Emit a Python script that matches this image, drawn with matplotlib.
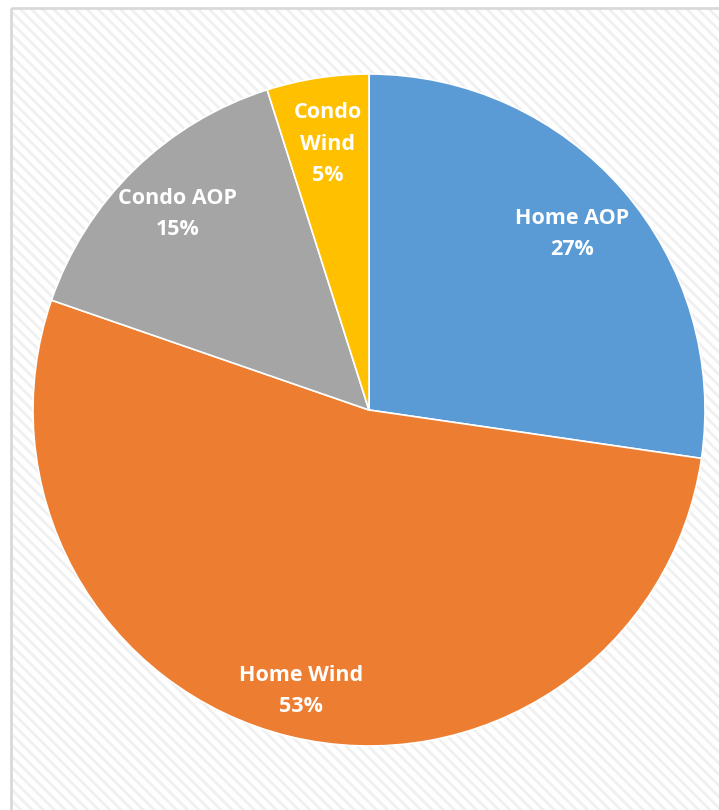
import matplotlib
matplotlib.use("Agg")
import matplotlib.pyplot as plt
from matplotlib.patches import Rectangle
import numpy as np

# data
names = ["Home AOP", "Home Wind", "Condo AOP", "Condo Wind"]
values = [27.3, 53.0, 14.8, 4.9]
label_text = ["Home AOP\n27%", "Home Wind\n53%", "Condo AOP\n15%", "Condo\nWind\n5%"]
colors = ["#5B9BD5", "#ED7D31", "#A5A5A5", "#FFC000"]
label_dist = [0.80, 0.86, 0.815, 0.80]  # radial position of each data label

plt.rcParams["hatch.linewidth"] = 2.0

fig = plt.figure(figsize=(7.19, 8.10), dpi=100)

# background panel with light diagonal pattern and gray border
bg = fig.add_axes([0, 0, 1, 1])
bg.set_xlim(0, 719)
bg.set_ylim(810, 0)
bg.axis("off")
bg.add_patch(Rectangle((11, 8), 720, 810, facecolor="white",
                       edgecolor="#f0f0f0", linewidth=0, hatch="\\\\\\"))
bg.add_patch(Rectangle((11, 8), 720, 810, facecolor="none",
                       edgecolor="#d9d9d9", linewidth=2))

# pie: center ~ (369, 410) px, radius ~ 335 px
cx, cy, r = 369, 410, 336
ax = fig.add_axes([(cx - r) / 719, 1 - (cy + r) / 810, 2 * r / 719, 2 * r / 810])
wedges, texts = ax.pie(values, colors=colors, startangle=90, counterclock=False,
                       radius=1.0, wedgeprops=dict(edgecolor="white", linewidth=1.2))
ax.set_xlim(-1, 1)
ax.set_ylim(-1, 1)
ax.set_aspect("equal")
ax.axis("off")

start = 90.0
total = sum(values)
for v, txt, d in zip(values, label_text, label_dist):
    span = v / total * 360
    mid = np.deg2rad(start - span / 2)
    start -= span
    ax.text(d * np.cos(mid), d * np.sin(mid), txt, ha="center", va="center",
            color="white", fontsize=15.5, fontweight="bold", family="Open Sans",
            linespacing=1.65)

fig.savefig("out.png", dpi=100)
